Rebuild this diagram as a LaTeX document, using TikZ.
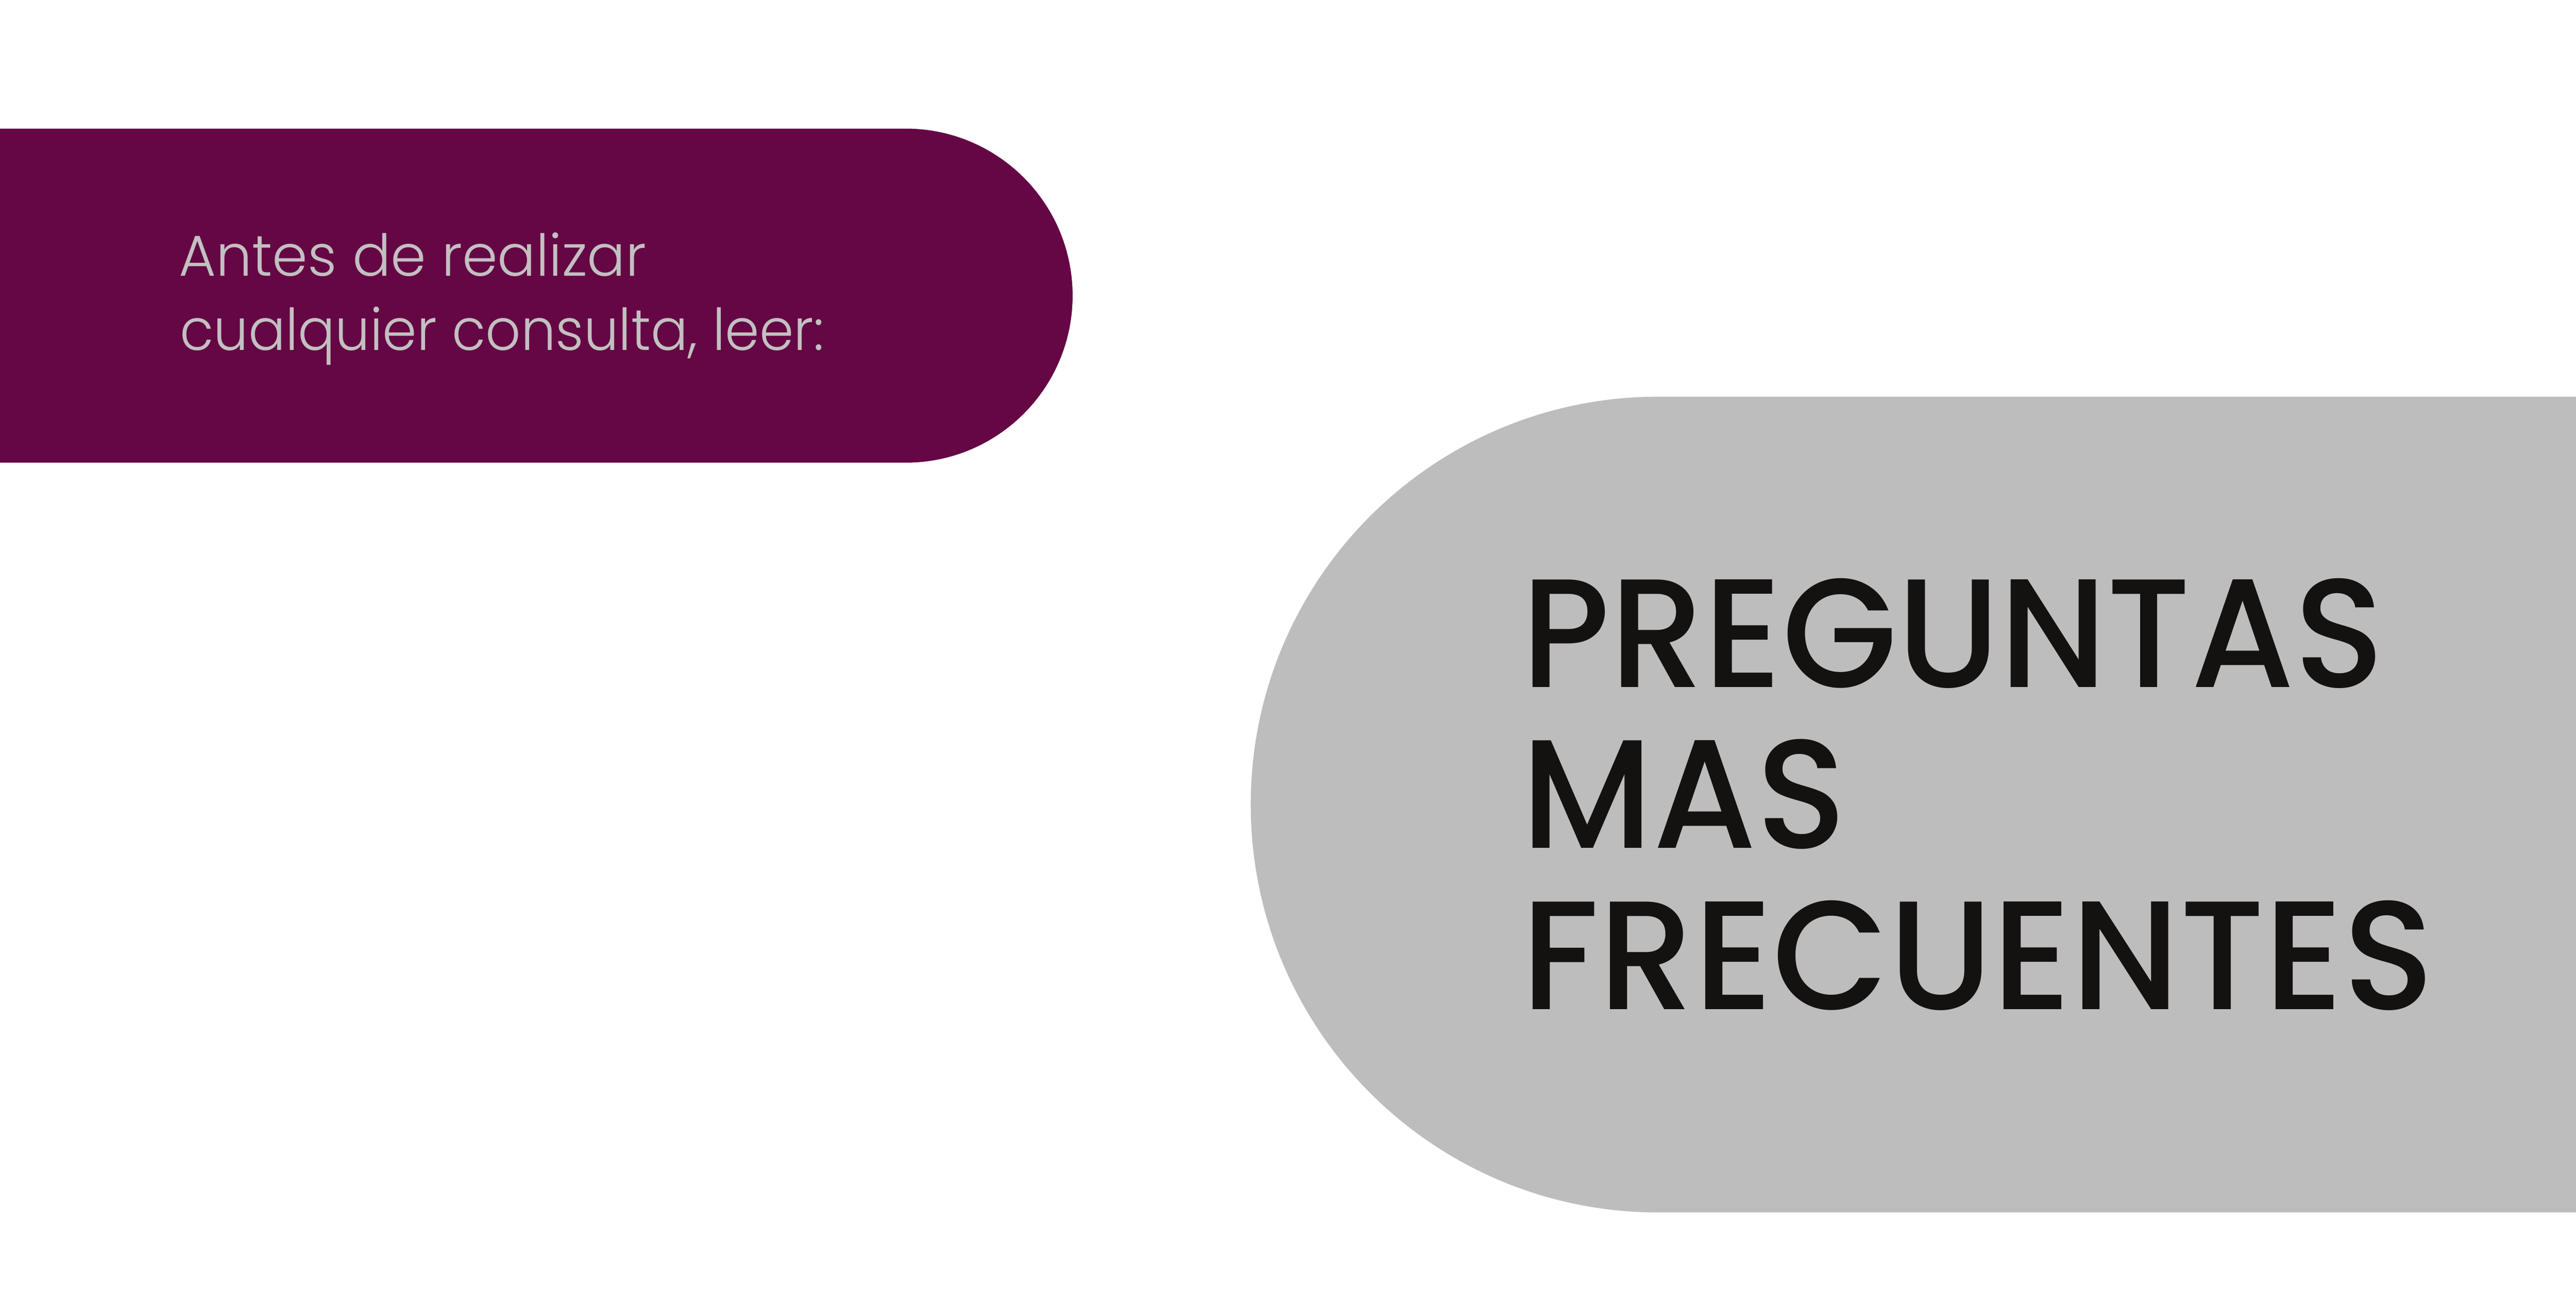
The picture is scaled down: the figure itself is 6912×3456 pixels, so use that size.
\documentclass[tikz,border=0pt]{standalone}
\usepackage{graphicx}
\usepackage{fontspec}
\IfFontExistsTF{Poppins Medium}{\newfontfamily\bigfont{Poppins Medium}}{\newfontfamily\bigfont{Poppins}}
\IfFontExistsTF{Poppins Light}{\newfontfamily\smallfont{Poppins Light}}{\newfontfamily\smallfont{Poppins}}
\definecolor{plum}{HTML}{660745}
\definecolor{pill}{HTML}{BDBDBD}
\definecolor{lighttxt}{HTML}{C2C0C1}
\definecolor{darktxt}{HTML}{141111}
\tikzset{
  bigtxt/.style={anchor=base west, inner sep=0pt, text=darktxt, font=\bigfont\fontsize{118}{123}\selectfont},
  smalltxt/.style={anchor=base west, inner sep=0pt, text=lighttxt, font=\smallfont\fontsize{44}{57}\selectfont},
}
\begin{document}
\begin{tikzpicture}[x=0.01cm,y=0.01cm]
\useasboundingbox (0,0) rectangle (6912,3456);
\fill[white] (0,0) rectangle (6912,3456);
% purple band
\fill[plum] (0,3111) -- (2430,3111) arc[start angle=90, end angle=-90, radius=448] -- (0,2215) -- cycle;
% gray pill
\fill[pill] (6912,2392) -- (4450,2392) arc[start angle=90, end angle=270, radius=1094] -- (6912,204) -- cycle;
% small text
\node[smalltxt] (s1) at (480,2716) {\scalebox{0.986}[1]{Antes de realizar}};
\node[smalltxt] (s2) at (482,2516) {\scalebox{0.954}[1]{cualquier consulta, leer:}};
% big text
\node[bigtxt] (l1) at (4082,1613) {\scalebox{0.962}[1]{PREGUNTAS}};
\node[bigtxt] (l2) at (4082,1181) {\scalebox{0.962}[1]{MAS}};
\node[bigtxt] (l3) at (4082,749) {\scalebox{0.972}[1]{FRECUENTES}};
\end{tikzpicture}
\end{document}
